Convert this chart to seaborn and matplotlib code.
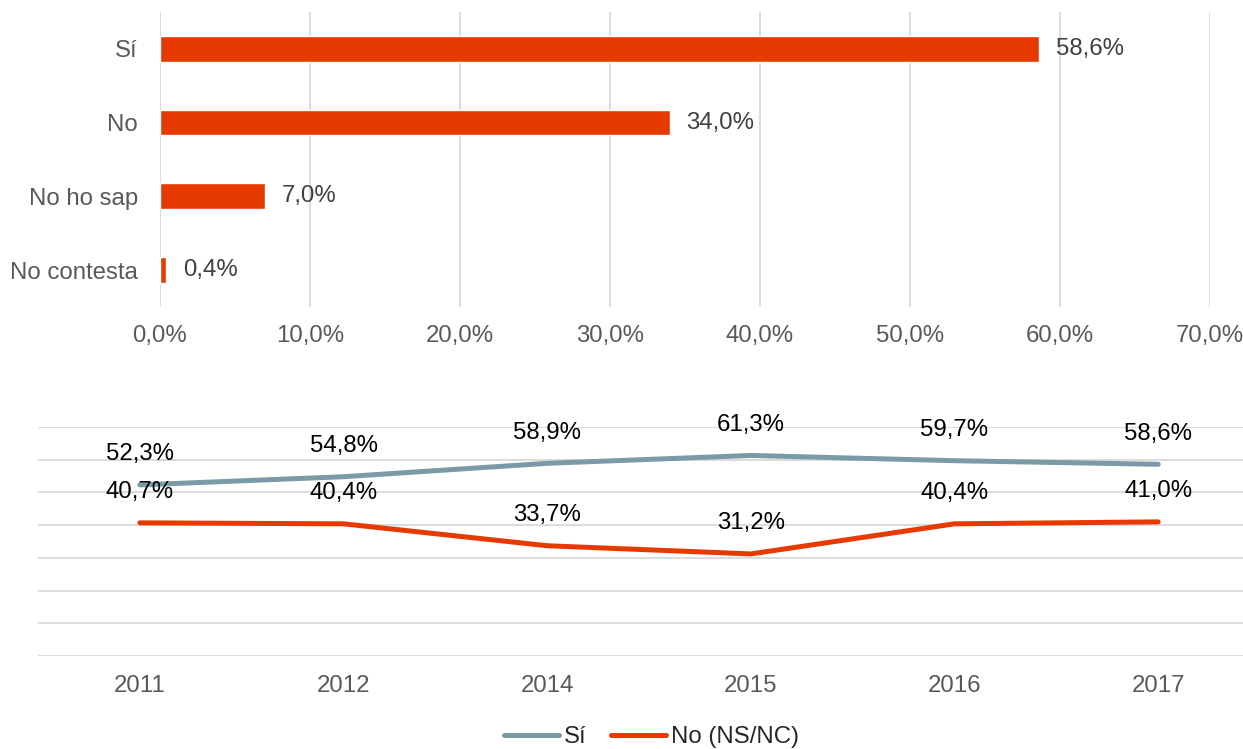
import matplotlib
matplotlib.use("Agg")
import matplotlib.pyplot as plt
from matplotlib.lines import Line2D
import seaborn as sns
import pandas as pd

# Response shares (%)
answers = ["Sí", "No", "No ho sap", "No contesta"]
answer_pct = [58.6, 34.0, 7.0, 0.4]

# Yearly evolution (%)
years = ["2011", "2012", "2014", "2015", "2016", "2017"]
si_pct = [52.3, 54.8, 58.9, 61.3, 59.7, 58.6]
no_pct = [40.7, 40.4, 33.7, 31.2, 40.4, 41.0]
series_names = ["Sí", "No (NS/NC)"]

x_ticks = [0, 10, 20, 30, 40, 50, 60, 70]

RED = "#E63A00"
BLUE_GREY = "#7A9BA6"
GRID = "#D9D9D9"
TICK = "#595959"
FS = 17.3

sns.set_theme(style="white")
plt.rcParams["font.family"] = ["Liberation Sans", "DejaVu Sans"]

def fmt(v):
    return f"{v:.1f}%".replace(".", ",")

fig = plt.figure(figsize=(12.43, 7.49), dpi=100)

# ---- Horizontal bar chart ----
ax1 = fig.add_axes([0.1287, 0.5901, 0.8447, 0.3940])
bars_df = pd.DataFrame({"answer": answers, "pct": answer_pct})
sns.barplot(data=bars_df, y="answer", x="pct", orient="h", color=RED,
            saturation=1, width=0.35, ax=ax1)
ax1.set_xlim(0, 70)
ax1.set_xticks(x_ticks)
ax1.set_xticklabels([fmt(t) for t in x_ticks])
ax1.set_xlabel("")
ax1.set_ylabel("")
ax1.grid(axis="x", color=GRID, linewidth=1.3)
ax1.grid(axis="y", visible=False)
ax1.set_axisbelow(True)
for s in ax1.spines.values():
    s.set_visible(False)
ax1.tick_params(axis="both", length=0, labelsize=FS, labelcolor=TICK)
ax1.tick_params(axis="x", pad=13)
ax1.tick_params(axis="y", pad=16)
for c in ax1.containers:
    ax1.bar_label(c, labels=[fmt(v) for v in answer_pct], padding=12,
                  fontsize=FS, color="#404040")

# ---- Line chart ----
ax2 = fig.add_axes([0.0306, 0.1242, 0.9831, 0.3057])
long_df = pd.DataFrame({
    "year": years * 2,
    "pct": si_pct + no_pct,
    "serie": [series_names[0]] * len(years) + [series_names[1]] * len(years),
})
sns.lineplot(data=long_df, x="year", y="pct", hue="serie", sort=False,
             palette={series_names[0]: BLUE_GREY, series_names[1]: RED},
             linewidth=3.6, ax=ax2, legend=False)
for line in ax2.lines:
    line.set_solid_capstyle("round")
ax2.set_xlim(-0.5, 5.5)
ax2.set_ylim(0, 70)
ax2.set_yticks(range(0, 71, 10))
ax2.set_yticklabels([])
ax2.set_xlabel("")
ax2.set_ylabel("")
ax2.grid(axis="y", color=GRID, linewidth=1.3)
ax2.grid(axis="x", visible=False)
ax2.set_axisbelow(True)
for s in ax2.spines.values():
    s.set_visible(False)
ax2.tick_params(axis="both", length=0, labelsize=FS, labelcolor=TICK)
ax2.tick_params(axis="x", pad=14)

for vals in (si_pct, no_pct):
    for i, v in enumerate(vals):
        ax2.annotate(fmt(v), (i, v), xytext=(0, 22), textcoords="offset points",
                     ha="center", va="center", fontsize=FS, color="black")

handles = [Line2D([], [], color=BLUE_GREY, lw=3.6, solid_capstyle="round"),
           Line2D([], [], color=RED, lw=3.6, solid_capstyle="round")]
fig.legend(handles, series_names, loc="center", bbox_to_anchor=(0.524, 0.016),
           ncol=2, frameon=False, fontsize=FS, handlelength=2.3,
           handletextpad=0.2, columnspacing=1.0)

fig.savefig("out.png", dpi=100)
